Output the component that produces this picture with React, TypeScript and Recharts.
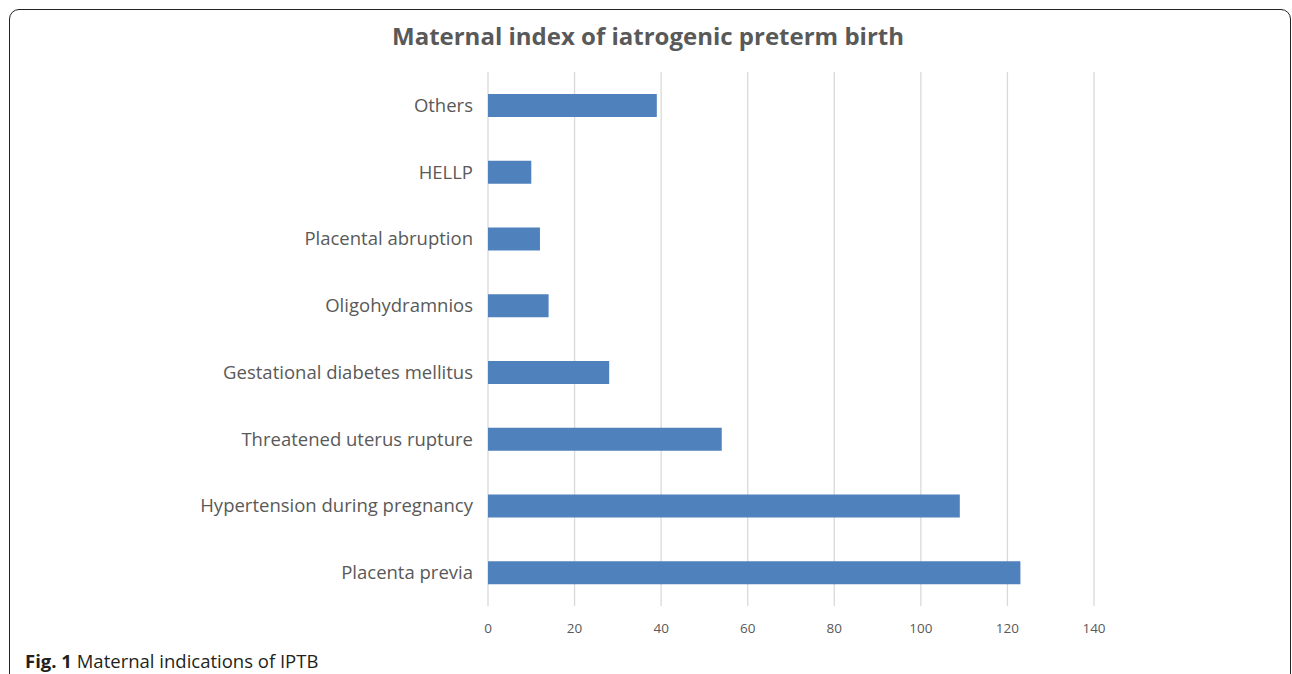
import { BarChart, Bar, XAxis, YAxis, CartesianGrid } from 'recharts';

const categories = [
  'Others',
  'HELLP',
  'Placental abruption',
  'Oligohydramnios',
  'Gestational diabetes mellitus',
  'Threatened uterus rupture',
  'Hypertension during pregnancy',
  'Placenta previa',
];
const counts = [39, 10, 12, 14, 28, 54, 109, 123];
const xTicks = [0, 20, 40, 60, 80, 100, 120, 140];

const data = categories.map((name, i) => ({ name, value: counts[i] }));

const FONT = '"Open Sans", "Noto Sans", sans-serif';
const TEXT = '#595959';

export default function App() {
  return (
    <div
      style={{
        position: 'fixed',
        left: 0,
        top: 0,
        width: 1292,
        height: 674,
        overflow: 'hidden',
        background: '#fff',
        fontFamily: FONT,
      }}
    >
      <div
        style={{
          position: 'absolute',
          left: 9,
          top: 9,
          width: 1280,
          height: 720,
          border: '1.5px solid #222',
          borderRadius: '10px 10px 0 0',
        }}
      />
      <div
        style={{
          position: 'absolute',
          left: 0,
          width: 1296,
          top: 19,
          textAlign: 'center',
          fontSize: 24,
          fontWeight: 700,
          color: TEXT,
        }}
      >
        Maternal index of iatrogenic preterm birth
      </div>
      <div style={{ position: 'absolute', left: 0, top: 0 }}>
        <BarChart
          width={1292}
          height={674}
          data={data}
          layout="vertical"
          margin={{ top: 72, right: 198, bottom: 38, left: 0 }}
          barCategoryGap={0}
        >
          <CartesianGrid horizontal={false} stroke="#d9d9d9" strokeWidth={1.3} />
          <XAxis
            type="number"
            domain={[0, 140]}
            ticks={xTicks}
            axisLine={false}
            tickLine={false}
            tickMargin={11}
            height={30}
            tick={{ fontSize: 13.5, fill: TEXT, fontFamily: FONT }}
          />
          <YAxis
            type="category"
            dataKey="name"
            width={488}
            axisLine={false}
            tickLine={false}
            tickMargin={9}
            tick={{ fontSize: 18.5, fill: TEXT, fontFamily: FONT }}
          />
          <Bar dataKey="value" fill="#4f81bd" barSize={23} isAnimationActive={false} />
        </BarChart>
      </div>
      <div
        style={{
          position: 'absolute',
          left: 25,
          top: 648,
          fontSize: 18.5,
          color: '#231f20',
          whiteSpace: 'nowrap',
        }}
      >
        <b>Fig. 1</b> Maternal indications of IPTB
      </div>
    </div>
  );
}
